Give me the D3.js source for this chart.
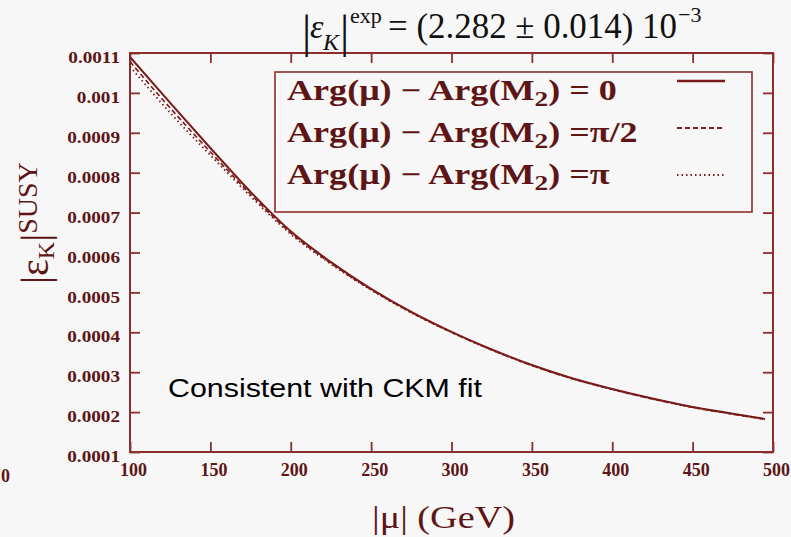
<!DOCTYPE html>
<html>
<head>
<meta charset="utf-8">
<script src="https://cdn.jsdelivr.net/npm/d3@7"></script>
<style>
  html, body { margin: 0; padding: 0; background: #f7f7f7; }
  svg { display: block; }
  text { font-family: "Liberation Serif", "Times New Roman", serif; }
</style>
</head>
<body>
<div id="chart"></div>
<script>
// |mu| in GeV and |eps_K|^SUSY for three phase choices
const muValues = [100, 125, 150, 175, 200, 225, 250, 275, 300, 325, 350, 375, 400, 425, 450, 475, 495];
const argZero = [0.001090, 0.000975, 0.000862, 0.000752, 0.000653, 0.000576, 0.000509, 0.000451, 0.000401, 0.000357, 0.000318, 0.000285, 0.000258, 0.000234, 0.000213, 0.000196, 0.000183];
const argHalfPi = [0.001078, 0.000962, 0.000852, 0.000746, 0.000649, 0.000573, 0.000507, 0.000450, 0.000400, 0.000356, 0.000317, 0.000284, 0.000257, 0.000233, 0.000212, 0.000195, 0.000182];
const argPi = [0.001066, 0.000950, 0.000844, 0.000741, 0.000646, 0.000571, 0.000506, 0.000449, 0.000400, 0.000356, 0.000317, 0.000284, 0.000257, 0.000233, 0.000212, 0.000195, 0.000182];

const xTicks = [100, 150, 200, 250, 300, 350, 400, 450, 500];
const yTicks = [0.0001, 0.0002, 0.0003, 0.0004, 0.0005, 0.0006, 0.0007, 0.0008, 0.0009, 0.001, 0.0011];
const yTickLabels = ["0.0001", "0.0002", "0.0003", "0.0004", "0.0005", "0.0006", "0.0007", "0.0008", "0.0009", "0.001", "0.0011"];
const legendEndings = [") = 0", ") =\u03c0/2", ") =\u03c0"];

const axisColor = "#8c2e2e";
const lineColor = "#7a1c1c";
const textColor = "#5e1515";

const svg = d3.select("#chart").append("svg")
    .attr("width", 791)
    .attr("height", 537);

svg.append("rect").attr("width", 791).attr("height", 537).attr("fill", "#f7f7f7");

const x = d3.scaleLinear().domain([100, 500]).range([130, 773]);
const y = d3.scaleLinear().domain([0.0001, 0.0011]).range([452, 53]);

// axes, ticks pointing inward
const bottom = svg.append("g")
    .attr("transform", "translate(0,452)")
    .call(d3.axisBottom(x).tickValues(xTicks).tickSize(-10).tickSizeOuter(0).tickPadding(11));
bottom.selectAll("text").attr("dx", 3).style("font-size", "18px");

const left = svg.append("g")
    .attr("transform", "translate(130,0)")
    .call(d3.axisLeft(y).tickValues(yTicks).tickSize(-10).tickSizeOuter(0).tickPadding(10)
        .tickFormat((d, i) => yTickLabels[i]));
const ySx = 1.2;
left.selectAll("text")
    .attr("x", -10 / ySx)
    .attr("dy", "0.6em")
    .attr("transform", `scale(${ySx},1)`)
    .style("font-size", "16px");

svg.append("g")
    .attr("transform", "translate(0,53)")
    .call(d3.axisTop(x).tickValues(xTicks).tickSize(-10).tickSizeOuter(0).tickFormat(""));
svg.append("g")
    .attr("transform", "translate(773,0)")
    .call(d3.axisRight(y).tickValues(yTicks).tickSize(-10).tickSizeOuter(0).tickFormat(""));

svg.selectAll(".domain").remove();
svg.selectAll(".tick line").attr("stroke", axisColor).attr("stroke-width", 1.8);
svg.selectAll(".tick text")
    .attr("fill", textColor)
    .style("font-family", "'Liberation Serif', serif")
    .style("font-weight", "bold");

svg.append("rect")
    .attr("x", x(100)).attr("y", y(0.0011))
    .attr("width", x(500) - x(100)).attr("height", y(0.0001) - y(0.0011))
    .attr("fill", "none").attr("stroke", axisColor).attr("stroke-width", 2);

// stray label from the neighbouring plot at the left edge
svg.append("text")
    .attr("x", 1).attr("y", 482)
    .attr("fill", textColor)
    .style("font-size", "18px")
    .style("font-weight", "bold")
    .text("0");

// curves
const series = [
    { values: argZero, dash: null, width: 2 },
    { values: argHalfPi, dash: "5,3", width: 1.6 },
    { values: argPi, dash: "1.5,3", width: 1.8 }
];

const line = d3.line()
    .x((d, i) => x(muValues[i]))
    .y(d => y(d))
    .curve(d3.curveMonotoneX);

svg.append("g").selectAll("path")
    .data(series)
    .join("path")
    .attr("d", d => line(d.values))
    .attr("fill", "none")
    .attr("stroke", lineColor)
    .attr("stroke-width", d => d.width)
    .attr("stroke-dasharray", d => d.dash);

// legend
const legend = svg.append("g");
legend.append("rect")
    .attr("x", 275).attr("y", 72).attr("width", 477).attr("height", 140)
    .attr("fill", "#f7f7f7").attr("stroke", axisColor).attr("stroke-width", 1.6);

const rowY = [100, 142, 184];
const sampleY = [81, 128, 175];
let legendSx = 1;
legendEndings.forEach((ending, i) => {
    const g = legend.append("g").attr("transform", `translate(287,${rowY[i]})`);
    const t = g.append("text")
        .attr("fill", textColor)
        .style("font-size", "29px")
        .style("font-weight", "bold");
    t.append("tspan").text("Arg(\u03bc) \u2212 Arg(M");
    t.append("tspan").attr("dy", 6).style("font-size", "22px").text("2");
    t.append("tspan").attr("dy", -6).text(ending);
    if (i === 0) legendSx = 330 / t.node().getComputedTextLength();
    g.attr("transform", `translate(287,${rowY[i]}) scale(${legendSx},1)`);

    legend.append("line")
        .attr("x1", 677).attr("x2", 725)
        .attr("y1", sampleY[i]).attr("y2", sampleY[i])
        .attr("stroke", lineColor)
        .attr("stroke-width", series[i].width + 0.4)
        .attr("stroke-dasharray", series[i].dash);
});

// title
const title = svg.append("text").attr("fill", "#111");
title.append("tspan").attr("x", 302).attr("y", 47).style("font-size", "46px").text("|");
title.append("tspan").attr("x", 310).attr("y", 38).style("font-size", "34px").style("font-style", "italic").text("\u03b5");
title.append("tspan").attr("x", 323).attr("y", 50).style("font-size", "24px").style("font-style", "italic").text("K");
title.append("tspan").attr("x", 340).attr("y", 47).style("font-size", "46px").text("|");
title.append("tspan").attr("x", 350).attr("y", 23).style("font-size", "22px").text("exp");
title.append("tspan").attr("x", 388).attr("y", 38).style("font-size", "35px")
    .attr("textLength", 289).attr("lengthAdjust", "spacingAndGlyphs")
    .text("= (2.282 \u00b1 0.014) 10");
title.append("tspan").attr("x", 678).attr("y", 22).style("font-size", "22px").text("\u22123");

// axis titles
const xl = svg.append("g");
const xlt = xl.append("text").attr("fill", textColor).style("font-size", "32px").text("|\u03bc| (GeV)");
const xlSx = 143 / xlt.node().getComputedTextLength();
xl.attr("transform", `translate(372,528) scale(${xlSx},1)`);

const yl = svg.append("text")
    .attr("transform", "translate(48,284) rotate(-90)")
    .attr("fill", textColor);
yl.append("tspan").style("font-size", "40px").text("|\u03b5");
yl.append("tspan").attr("dy", 6).style("font-size", "24px").text("K");
yl.append("tspan").attr("dy", -6).style("font-size", "40px").text("|");
yl.append("tspan").attr("dy", -11).style("font-size", "28px").text("SUSY");

// annotation
const note = svg.append("text")
    .attr("x", 168).attr("y", 397)
    .attr("fill", "#000")
    .style("font-family", "'Liberation Sans', Arial, sans-serif")
    .style("font-size", "25px")
    .text("Consistent with CKM fit");
note.attr("textLength", 314).attr("lengthAdjust", "spacingAndGlyphs");
</script>
</body>
</html>
